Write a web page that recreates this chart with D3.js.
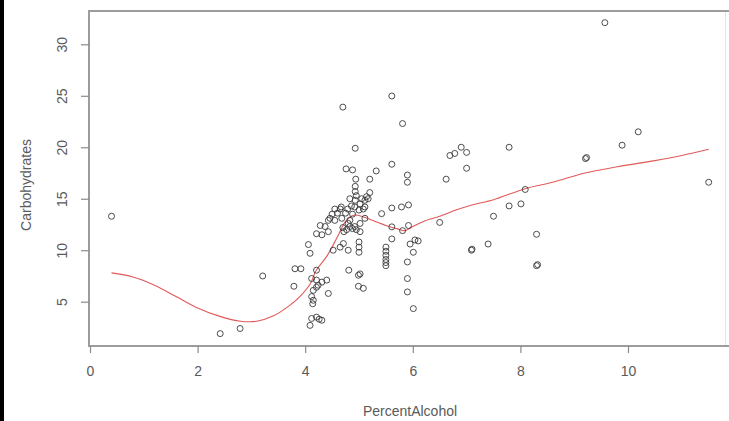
<!DOCTYPE html>
<html>
<head>
<meta charset="utf-8">
<script src="https://cdn.jsdelivr.net/npm/d3@7"></script>
<style>
  html, body { margin: 0; padding: 0; background: #fff; }
  svg { display: block; }
  text { font-family: "Liberation Sans", Arial, sans-serif; fill: #5a5a5a; }
</style>
</head>
<body>
<svg id="chart" width="729" height="421"></svg>
<script>
// PercentAlcohol (x) and Carbohydrates (y)
const alcohol = [
  0.4, 2.42, 2.79, 3.21, 3.81, 3.92, 3.79,
  4.06, 4.09, 4.28, 4.37, 4.21, 4.31, 4.43, 4.43, 4.21, 4.12, 4.21, 4.31, 4.4,
  4.21, 4.24, 4.43, 4.12, 4.15, 4.14, 4.12, 4.21, 4.31, 4.09, 4.15, 4.26,
  4.46, 4.55, 4.68, 4.83, 4.55, 4.67, 4.79, 4.92, 5.02, 5.11, 4.6, 4.75, 4.5,
  4.88, 5.0, 4.7, 4.77, 4.83, 4.88, 4.92, 4.95, 4.72, 4.8, 5.02, 5.02, 5.11,
  4.7, 4.93, 4.76, 4.88, 4.94, 4.93, 4.93, 4.83, 4.93, 5.05, 5.14, 5.2, 5.11,
  5.17, 5.2, 5.32, 4.95, 4.86, 5.08, 4.65,
  4.52, 4.65, 4.71, 4.8, 5.0, 5.0, 5.0, 4.81, 4.99, 5.02, 4.99, 5.08,
  5.61, 5.81, 5.61, 5.9, 5.9, 5.42, 5.61, 5.79, 5.92, 5.61, 5.81, 5.92, 5.61,
  5.95, 6.04, 6.1, 6.01, 5.5, 5.5, 5.5, 5.5, 5.5, 5.5, 5.9, 5.9, 5.9, 6.01,
  6.5, 6.62, 6.69, 6.78, 6.9, 7.0, 7.0, 7.09, 7.1,
  7.4, 7.5, 7.79, 8.01, 8.09, 7.79, 8.3, 8.3, 8.32,
  9.21, 9.23, 9.89, 10.19, 9.57, 11.5
];
const carbohydrates = [
  13.3, 1.9, 2.4, 7.5, 8.2, 8.2, 6.5,
  10.55, 9.7, 12.4, 12.3, 11.6, 11.5, 11.8, 12.9, 8.06, 7.25, 7.1, 6.9, 7.1,
  6.4, 6.6, 5.8, 5.5, 5.14, 4.8, 3.37, 3.5, 3.2, 2.7, 6.1, 3.3,
  13.1, 12.9, 13.1, 12.9, 14.0, 14.2, 14.0, 14.2, 14.5, 14.2, 13.6, 13.6, 13.5,
  13.5, 13.9, 12.2, 12.0, 12.3, 12.1, 12.3, 12.0, 11.8, 12.6, 12.6, 11.8, 13.1,
  23.9, 19.9, 17.9, 17.8, 16.9, 16.2, 15.7, 15.0, 14.85, 15.0, 15.2, 15.6, 14.85,
  15.0, 16.9, 17.7, 15.3, 14.3, 14.0, 14.0,
  10.0, 10.3, 10.65, 10.0, 10.3, 9.8, 10.8, 8.06, 7.57, 7.7, 6.5, 6.3,
  24.98, 22.3, 18.35, 17.3, 16.6, 13.55, 14.1, 14.2, 14.4, 12.27, 11.9, 12.4, 11.1,
  10.6, 11.0, 10.9, 9.8, 10.3, 9.9, 9.5, 9.1, 8.8, 8.5, 8.86, 7.25, 5.95, 4.33,
  12.7, 16.9, 19.2, 19.4, 20.0, 19.5, 17.96, 10.0, 10.1,
  10.6, 13.3, 14.3, 14.5, 15.9, 20.0, 11.55, 8.5, 8.6,
  18.9, 19.0, 20.2, 21.5, 32.1, 16.6
];

// smoother (red line)
const smoothX = [0.4, 0.8, 1.2, 1.6, 2.0, 2.4, 2.8, 3.1, 3.4, 3.7, 3.9, 4.1, 4.2, 4.4, 4.6,
  4.75, 4.9, 5.1, 5.3, 5.5, 5.7, 5.85, 6.0, 6.2, 6.5, 6.8, 7.1, 7.5, 8.1, 8.6, 9.2, 9.8, 10.5, 11.0, 11.5];
const smoothY = [7.8, 7.4, 6.6, 5.5, 4.4, 3.6, 3.1, 3.1, 3.6, 4.6, 5.5, 6.8, 8.0, 9.4, 11.3,
  12.8, 13.4, 13.2, 12.8, 12.4, 12.1, 11.9, 12.3, 12.8, 13.3, 13.9, 14.4, 14.9, 16.0, 16.6, 17.5, 18.1, 18.7, 19.2, 19.8];

const xTicks = [0, 2, 4, 6, 8, 10];
const yTicks = [5, 10, 15, 20, 25, 30];

const svg = d3.select("#chart");

const plot = { left: 89, top: 11, right: 760, bottom: 346 };

const x = d3.scaleLinear().domain([0, 10]).range([90, 628]);
const y = d3.scaleLinear().domain([5, 30]).range([301.7, 44.3]);

// black strip on the left edge of the screenshot
svg.append("rect").attr("x", 0).attr("y", 0).attr("width", 4).attr("height", 421).attr("fill", "#000");

// faint window edge on the right
svg.append("line")
  .attr("x1", 725.5).attr("x2", 725.5).attr("y1", plot.top).attr("y2", plot.bottom)
  .attr("stroke", "#e4e4e4").attr("stroke-width", 1);

// red smoother
const line = d3.line()
  .x((d, i) => x(smoothX[i]))
  .y(d => y(d))
  .curve(d3.curveCatmullRom.alpha(0.5));

svg.append("path")
  .datum(smoothY)
  .attr("d", line)
  .attr("fill", "none")
  .attr("stroke", "#e05a5a")
  .attr("stroke-width", 1.1);

// points
svg.append("g")
  .selectAll("circle")
  .data(alcohol)
  .join("circle")
  .attr("cx", d => x(d))
  .attr("cy", (d, i) => y(carbohydrates[i]))
  .attr("r", 3)
  .attr("fill", "none")
  .attr("stroke", "#3a3a3a")
  .attr("stroke-width", 0.9);

// box
svg.append("path")
  .attr("d", `M${plot.right},${plot.top}H${plot.left}V${plot.bottom}H${plot.right}`)
  .attr("fill", "none")
  .attr("stroke", "#9c9c9c")
  .attr("stroke-width", 2);

// x axis
const xAxis = d3.axisBottom(x).tickValues(xTicks).tickSize(7).tickPadding(13).tickFormat(d3.format("d"));
const gx = svg.append("g").attr("transform", `translate(0,${plot.bottom})`).call(xAxis);
gx.select(".domain").remove();
gx.selectAll(".tick line").attr("stroke", "#8a8a8a").attr("stroke-width", 1.2);
gx.selectAll(".tick text").attr("font-size", 14).style("fill", "#5a5a5a");

// y axis, labels rotated like R's las = 0
const yAxis = d3.axisLeft(y).tickValues(yTicks).tickSize(8).tickFormat(d3.format("d"));
const gy = svg.append("g").attr("transform", `translate(${plot.left},0)`).call(yAxis);
gy.select(".domain").remove();
gy.selectAll(".tick line").attr("stroke", "#8a8a8a").attr("stroke-width", 1.2);
gy.selectAll(".tick text")
  .attr("font-size", 14)
  .style("fill", "#5a5a5a")
  .attr("x", null).attr("dy", null)
  .attr("text-anchor", "middle")
  .attr("transform", "translate(-27,0) rotate(-90)")
  .attr("dominant-baseline", "central");

// axis titles
svg.append("text")
  .attr("x", 410).attr("y", 416)
  .attr("text-anchor", "middle")
  .attr("font-size", 14)
  .text("PercentAlcohol");

svg.append("text")
  .attr("transform", "translate(31,185) rotate(-90)")
  .attr("text-anchor", "middle")
  .attr("font-size", 14)
  .text("Carbohydrates");
</script>
</body>
</html>
